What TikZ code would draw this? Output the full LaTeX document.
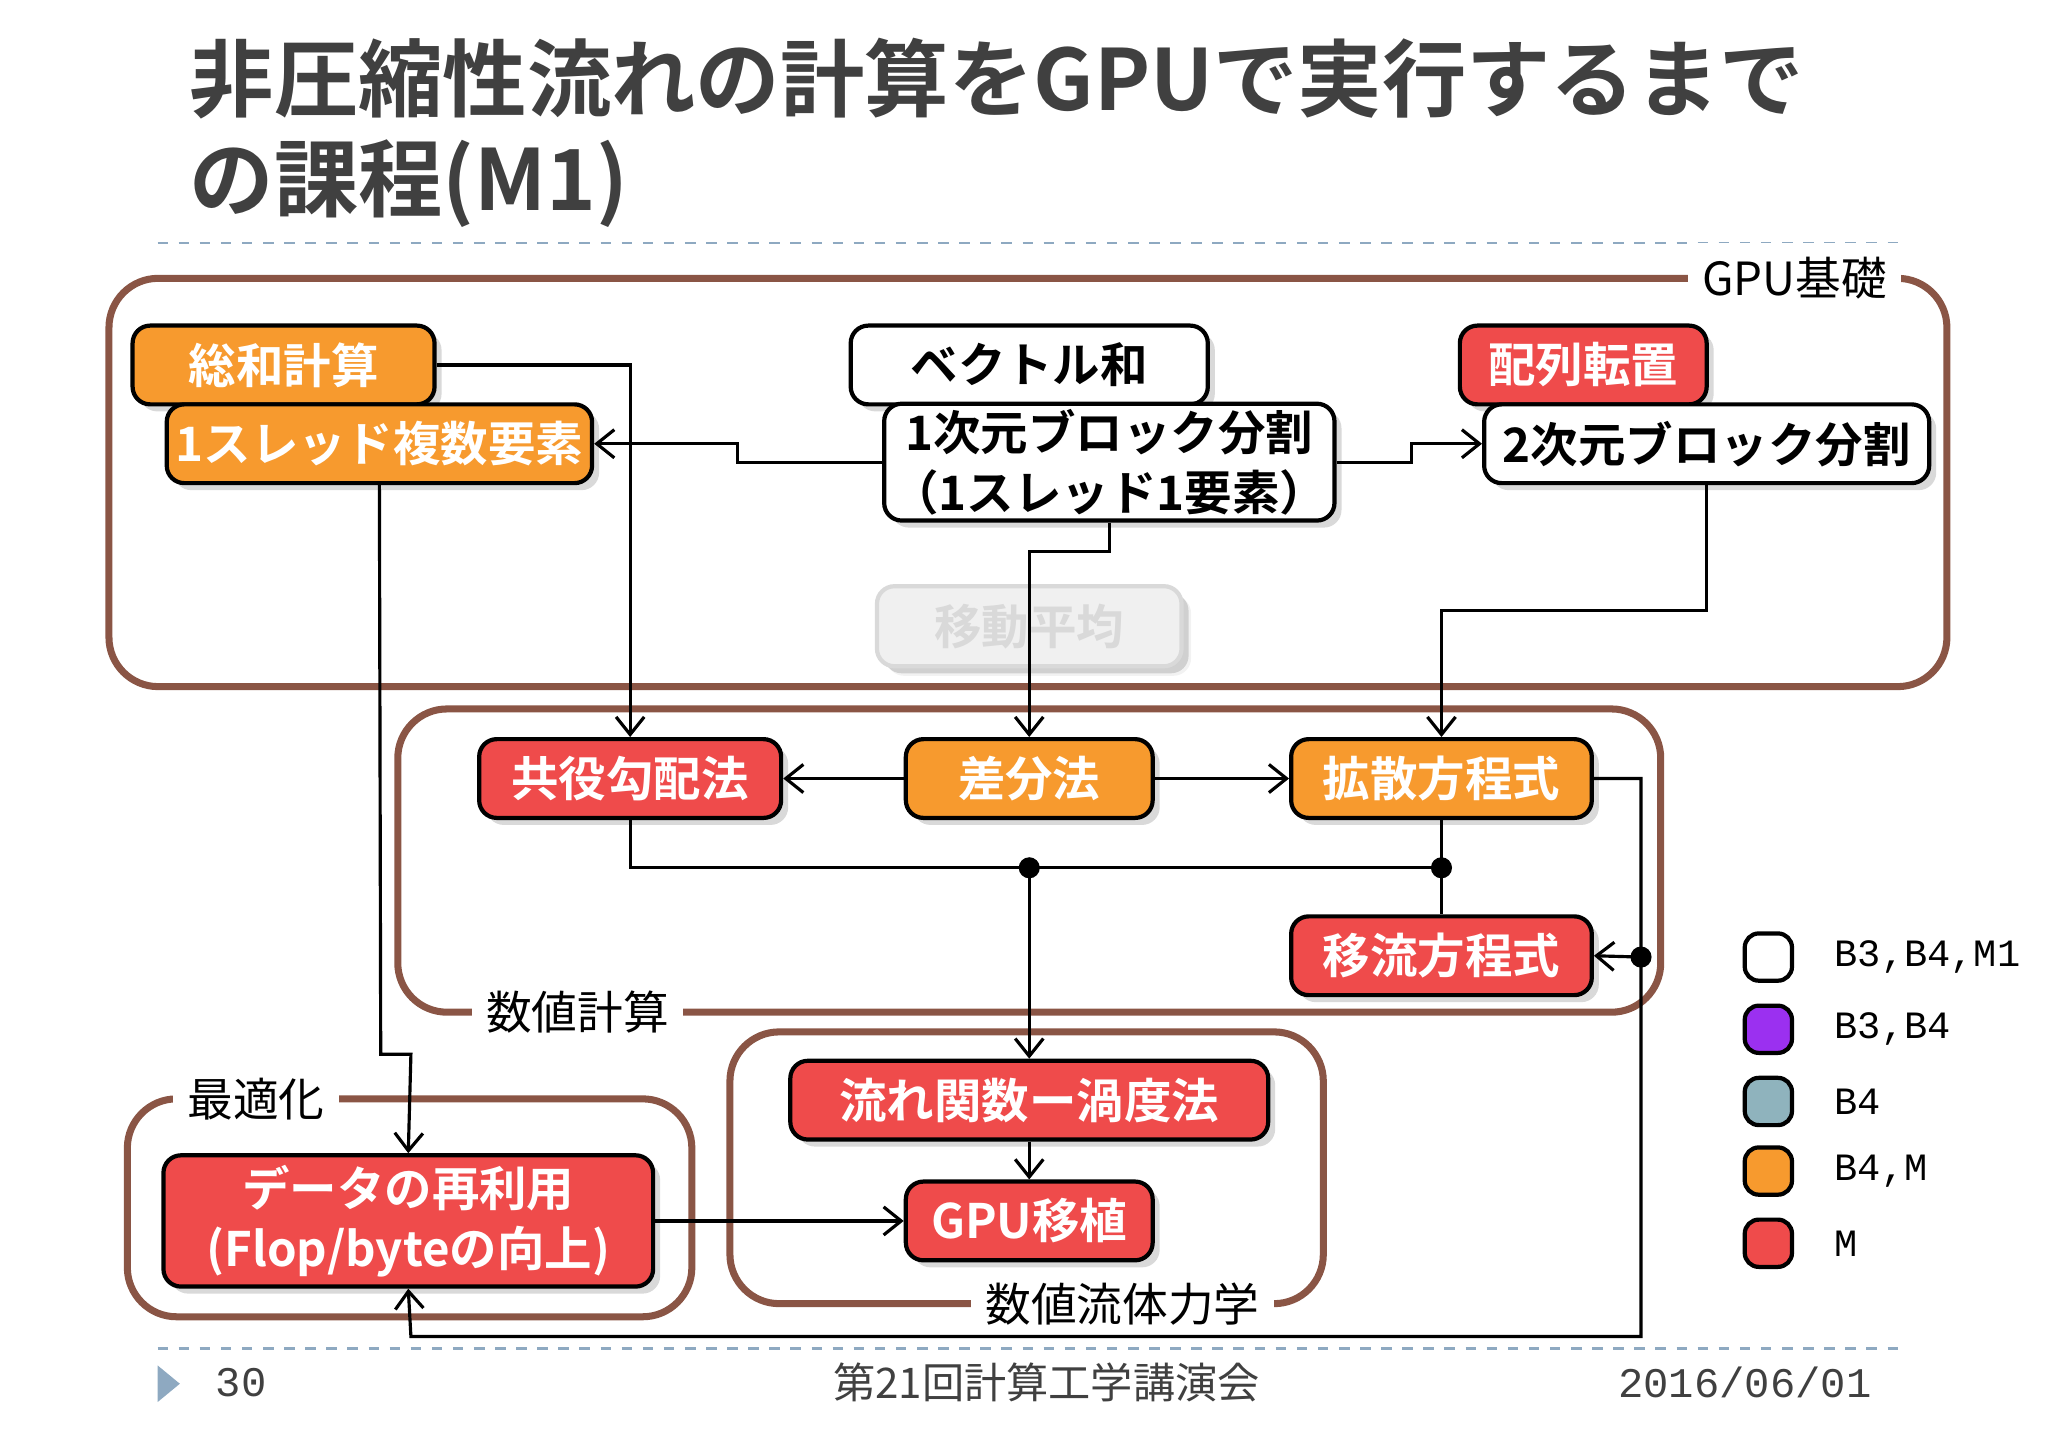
\documentclass[tikz,border=0pt]{standalone}
\usepackage{fontspec}
\setmainfont{Noto Sans CJK JP}
\newfontfamily\jpb{Noto Sans CJK JP Bold}
\newfontfamily\monof{Liberation Mono}
\usetikzlibrary{shadows,arrows.meta}
\definecolor{bx}{HTML}{8A5545}
\definecolor{orng}{HTML}{F79A2E}
\definecolor{rd}{HTML}{EF4B4B}
\definecolor{purp}{HTML}{9B30F0}
\definecolor{gb}{HTML}{8FB3BD}
\definecolor{tri}{HTML}{8EA9C1}
\begin{document}
\begin{tikzpicture}[x=0.013128cm,y=-0.013128cm,
 box/.style={draw=black,line width=1.2pt,rounded corners=5pt,drop shadow={opacity=0.3,shadow xshift=2pt,shadow yshift=-2pt},inner sep=0pt,align=center,font=\jpb\fontsize{13.5}{17}\selectfont},
 ob/.style={box,fill=orng,text=white},
 rb/.style={box,fill=rd,text=white},
 wb/.style={box,fill=white,text=black},
 grp/.style={draw=bx,line width=2pt,rounded corners=14pt},
 glab/.style={fill=white,inner sep=4pt,font=\fontsize{13}{15}\selectfont},
 arr/.style={-{Straight Barb[length=5pt,width=8pt]},line width=0.9pt},
 ln/.style={line width=0.9pt},
 dot/.style={circle,fill=black,inner sep=0pt,minimum size=6pt}]
\useasboundingbox (0,0) rectangle (1560,1103);
% title
\node[anchor=west,text=black!75,font=\jpb\fontsize{24}{28}\selectfont] (t1) at (135,60) {非圧縮性流れの計算をGPUで実行するまで};
\node[anchor=west,text=black!75,font=\jpb\fontsize{24}{28}\selectfont] (t2) at (135,140) {の課程(M1)};
\draw[tri,dashed,line width=0.7pt] (120,185) -- (1450,185);
\draw[tri,dashed,line width=0.7pt] (120,1027) -- (1450,1027);
% groups
\draw[grp] (83,212) rectangle (1483,523);
\node[glab] (g1) at (1367,212) {GPU基礎};
\draw[grp] (303,540) rectangle (1265,771);
\node[glab] (g2) at (440,771) {数値計算};
\draw[grp] (556,786) rectangle (1008,993);
\node[glab] (g3) at (855,993) {数値流体力学};
\draw[grp] (97,837) rectangle (527,1003);
\node[glab] (g4) at (195,837) {最適化};
% boxes
\node[ob,minimum width=230*0.013128cm,minimum height=60*0.013128cm] (sowa) at (216,278) {総和計算};
\node[ob,minimum width=324*0.013128cm,minimum height=60*0.013128cm] (fuku) at (289,338) {1スレッド複数要素};
\node[wb,minimum width=272*0.013128cm,minimum height=60*0.013128cm] (vec) at (784,278) {ベクトル和};
\node[wb,minimum width=343*0.013128cm,minimum height=89*0.013128cm] (ichi) at (845,352) {1次元ブロック分割\\（1スレッド1要素）};
\node[rb,minimum width=188*0.013128cm,minimum height=60*0.013128cm] (ten) at (1206,278) {配列転置};
\node[wb,minimum width=339*0.013128cm,minimum height=60*0.013128cm] (ni) at (1300,338) {2次元ブロック分割};
\node[box,draw=black!15,fill=black!6,text=black!15,minimum width=232*0.013128cm,minimum height=61*0.013128cm,drop shadow={opacity=0.1}] (ido) at (784,477) {移動平均};
\node[rb,minimum width=230*0.013128cm,minimum height=60*0.013128cm] (kyo) at (480,593) {共役勾配法};
\node[ob,minimum width=188*0.013128cm,minimum height=60*0.013128cm] (sab) at (784,593) {差分法};
\node[ob,minimum width=229*0.013128cm,minimum height=60*0.013128cm] (kak) at (1098,593) {拡散方程式};
\node[rb,minimum width=229*0.013128cm,minimum height=60*0.013128cm] (iry) at (1098,728) {移流方程式};
\node[rb,minimum width=364*0.013128cm,minimum height=60*0.013128cm] (nag) at (784,838) {流れ関数ー渦度法};
\node[rb,minimum width=188*0.013128cm,minimum height=60*0.013128cm] (gpu) at (784,930) {GPU移植};
\node[rb,minimum width=373*0.013128cm,minimum height=100*0.013128cm] (dat) at (311,930) {データの再利用\\(Flop/byteの向上)};
% coordinates
\coordinate (d1) at (784,661);
\coordinate (d2) at (1098,661);
\coordinate (d3) at (1250,729);
\node[dot] at (d1) {};
\node[dot] at (d2) {};
\node[dot] at (d3) {};
% connectors
\draw[arr] (sowa.east) -- (480,278) -- (kyo.north);
\draw[arr] (ichi.west) -- (562,352) -- (562,338) -- (fuku.east);
\draw[arr] (ichi.east) -- (1075,352) -- (1075,338) -- (ni.west);
\draw[arr] (ichi.south) -- (845,420) -- (784,420) -- (sab.north);
\draw[arr] (ni.south) -- (1300,465) -- (1098,465) -- (kak.north);
\draw[arr] (sab.west) -- (kyo.east);
\draw[arr] (sab.east) -- (kak.west);
\draw[ln] (kyo.south) |- (d2);
\draw[ln] (kak.south) -- (iry.north);
\draw[arr] (d1) -- (nag.north);
\draw[arr] (kak.east) -- (1250,593) -- (1250,1018) -- (313,1018) -- (dat.south);
\draw[arr] (d3) -- (iry.east);
\draw[arr] (fuku.south) -- (290,803) -- (313,803) -- (dat.north);
\draw[arr] (nag.south) -- (gpu.north);
\draw[arr] (dat.east) -- (gpu.west);
% legend
\foreach \c/\y/\t [count=\i] in {white/729/{B3,B4,M1},purp/784/{B3,B4},gb/839/B4,orng/892/{B4,M},rd/947/M}{
 \node[draw=black,line width=1.2pt,fill=\c,rounded corners=4pt,minimum size=36*0.013128cm,inner sep=0pt] (lg\i) at (1347,\y) {};
 \node[anchor=west,font=\monof\fontsize{11}{13}\selectfont] (lt\i) at (1388,\y) {\t};
}
% footer
\fill[tri] (120,1040) -- (137,1054) -- (120,1068) -- cycle;
\node[anchor=west,font=\monof\fontsize{12}{14}\selectfont,text=black!75] (pg) at (155,1053) {30};
\node[font=\fontsize{12}{14}\selectfont,text=black!75] (conf) at (797,1053) {第21回計算工学講演会};
\node[anchor=east,font=\monof\fontsize{12}{14}\selectfont,text=black!75] (dt) at (1435,1053) {2016/06/01};
\end{tikzpicture}
\end{document}
